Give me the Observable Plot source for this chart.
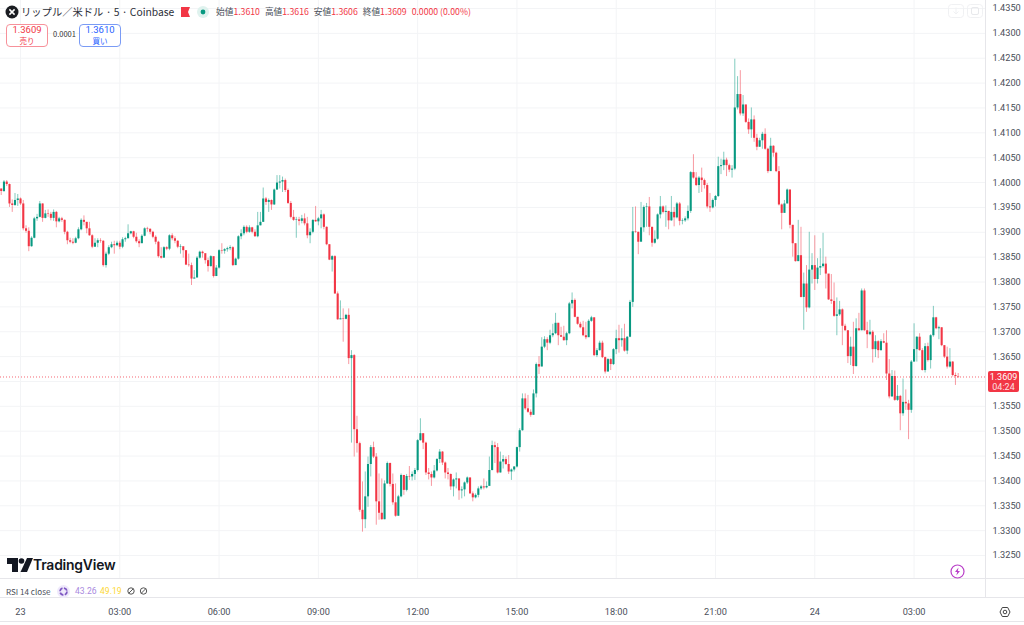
<!DOCTYPE html>
<html><head><meta charset="utf-8">
<script src="https://cdn.jsdelivr.net/npm/d3@7"></script>
<script src="https://cdn.jsdelivr.net/npm/@observablehq/plot@0.6"></script>
<style>
html,body{margin:0;padding:0;background:#fff;overflow:hidden}
#wrap{position:relative;width:1024px;height:625px;font-family:"Noto Sans CJK JP","Noto Sans",sans-serif;color:#131722}
#chart svg{display:block}
.a{position:absolute;white-space:nowrap}
.box{position:absolute;top:24px;width:40px;height:21px;border:1px solid;border-radius:4px;background:#fff;text-align:center;font-family:Roboto,sans-serif;font-size:9.5px;line-height:10px;box-sizing:content-box}
.box span{position:absolute;left:0;right:0;top:11px;font-family:"Noto Sans CJK JP",sans-serif;font-size:7.5px;line-height:10px}
.r{color:#f23645}.n{color:#4a4e59}
#ohlc{left:216px;top:5px;font-size:8.7px;line-height:14px}
#ohlc b{font-weight:400;margin-right:5px}
.rule{position:absolute;background:#e6e6ea}
</style></head><body>
<div id="wrap">
<div id="chart"></div>
<div class="rule" style="left:0;top:578px;width:1024px;height:1px"></div>
<div class="rule" style="left:0;top:597px;width:1024px;height:1px"></div>
<div class="rule" style="left:0;top:621px;width:1024px;height:1px"></div>
<div class="rule" style="left:985px;top:0;width:1px;height:597px"></div>
<svg class="a" style="left:5px;top:5px" width="14" height="14" viewBox="0 0 14 14"><circle cx="7" cy="7" r="6.5" fill="#1b1d22"/><path d="M4.4 4.4L9.6 9.6M9.6 4.4L4.4 9.6" stroke="#fff" stroke-width="1.5"/></svg>
<div class="a" style="left:21px;top:3px;font-size:10.3px;line-height:18px;color:#2b2e38">リップル／米ドル · 5 · Coinbase</div>
<svg class="a" style="left:181px;top:7px" width="9" height="10" viewBox="0 0 9 10"><path d="M0 0H9L7 5L9 10H0Z" fill="#f23645"/></svg>
<svg class="a" style="left:197px;top:6px" width="12" height="12" viewBox="0 0 12 12"><circle cx="6" cy="6" r="6" fill="#dff2ee"/><circle cx="6" cy="6" r="2.4" fill="#089981"/></svg>
<div class="a" id="ohlc"><span class="n">始値</span><b class="r">1.3610</b><span class="n">高値</span><b class="r">1.3616</b><span class="n">安値</span><b class="r">1.3606</b><span class="n">終値</span><b class="r">1.3609</b><b class="r">0.0000 (0.00%)</b></div>
<div class="box r" style="left:6px;border-color:#f7919a">1.3609<span>売り</span></div>
<div class="a" style="left:53px;top:29px;font-size:7.5px;line-height:10px;color:#333">0.0001</div>
<div class="box" style="left:79px;border-color:#7a9bf5;color:#2962ff">1.3610<span>買い</span></div>
<svg class="a" style="left:948px;top:4px" width="36" height="14" viewBox="0 0 36 14"><g fill="none" stroke="#f0f1f3" stroke-width="1"><rect x=".5" y=".5" width="15" height="13" rx="3"/><rect x="19.5" y=".5" width="15" height="13" rx="3"/><path d="M8 3.5V10M5.5 7.5L8 10L10.5 7.5"/><rect x="23.5" y="3.5" width="7" height="7" rx="1.5" stroke="#e8e9ec"/></g></svg>
<div class="a" style="left:988px;top:371px;width:31px;height:21px;background:#f23645;border-radius:2px;color:#fff;text-align:center;font-family:Roboto,sans-serif;font-size:9px;line-height:10px;padding-top:1px;box-sizing:border-box">1.3609<br><span style="opacity:.85">04:24</span></div>
<svg class="a" style="left:7px;top:558px" width="26" height="14" viewBox="0 0 26 14"><path d="M0 0H11V14H5V6H0Z" fill="#131722"/><circle cx="14.5" cy="3" r="2.8" fill="#131722"/><path d="M20 0H26L20 14H13.5Z" fill="#131722"/></svg>
<div class="a" style="left:33px;top:555px;font-family:Inter,Roboto,sans-serif;font-weight:600;font-size:13.9px;line-height:20px;letter-spacing:-.2px;color:#131722">TradingView</div>
<div class="a" style="left:6px;top:585px;font-size:8.1px;line-height:13px;color:#4a4e59">RSI 14 close</div>
<svg class="a" style="left:57px;top:585px" width="13" height="13" viewBox="0 0 13 13"><circle cx="6.5" cy="6.5" r="6.5" fill="#efe9fb"/><circle cx="6.5" cy="6.5" r="3.5" fill="none" stroke="#7e57c2" stroke-width="1.8" stroke-dasharray="4 1.5"/></svg>
<div class="a" style="left:75px;top:585px;font-family:Roboto,sans-serif;font-size:8.6px;line-height:13px;color:#a98ae0">43.26</div>
<div class="a" style="left:100px;top:585px;font-family:Roboto,sans-serif;font-size:8.6px;line-height:13px;color:#fdd835">49.19</div>
<svg class="a" style="left:126px;top:586px" width="24" height="10" viewBox="0 0 24 10"><g fill="none" stroke="#555" stroke-width="1"><circle cx="5" cy="5" r="3.2"/><path d="M2.8 7.2L7.2 2.8"/><circle cx="17.5" cy="5" r="3.2"/><path d="M15.3 7.2L19.7 2.8"/></g></svg>
<svg class="a" style="left:950px;top:564px" width="15" height="15" viewBox="0 0 15 15"><circle cx="7.5" cy="7.5" r="6.5" fill="#fff" stroke="#b93fc8" stroke-width="1.2"/><path d="M8.5 3.5L5 8H7.2L6.3 11.5L10 7H7.8Z" fill="#b93fc8"/></svg>
<svg class="a" style="left:999px;top:606px" width="12" height="12" viewBox="0 0 12 12"><path d="M3.3 1.5H8.7L11 6L8.7 10.5H3.3L1 6Z" fill="none" stroke="#444" stroke-width="1"/><circle cx="6" cy="6" r="1.8" fill="none" stroke="#444" stroke-width="1"/></svg>
</div>
<script>
// Prices in 1/10000 units; opens follow the previous close.
const firstOpen = 13987;
const closes = [
13982,14001,13996,13957,13954,13964,13967,13957,13907,13902,
13871,13888,13927,13930,13957,13928,13937,13936,13928,13940,
13921,13927,13924,13900,13883,13880,13878,13887,13905,13924,
13920,13907,13893,13870,13878,13883,13882,13833,13856,13869,
13875,13873,13878,13870,13885,13887,13897,13901,13890,13881,
13877,13892,13907,13906,13900,13890,13880,13851,13848,13869,
13866,13893,13887,13882,13870,13871,13863,13834,13833,13806,
13808,13848,13860,13857,13843,13831,13851,13811,13828,13863,
13862,13865,13867,13869,13833,13846,13891,13897,13910,13900,
13909,13900,13891,13913,13920,13967,13960,13964,13955,13985,
13999,14001,14004,13984,13958,13930,13924,13925,13922,13927,
13917,13893,13900,13924,13921,13927,13935,13910,13875,13844,
13851,13776,13724,13726,13725,13733,13646,13652,13503,13475,
13341,13322,13368,13433,13467,13448,13358,13335,13322,13394,
13435,13393,13356,13329,13368,13411,13381,13409,13408,13413,
13421,13481,13495,13476,13416,13413,13406,13420,13443,13458,
13436,13416,13413,13388,13402,13404,13380,13382,13396,13406,
13374,13366,13371,13384,13388,13386,13389,13421,13471,13467,
13416,13438,13443,13433,13418,13422,13428,13467,13501,13565,
13545,13538,13532,13575,13634,13629,13669,13684,13677,13692,
13696,13717,13692,13689,13682,13696,13756,13763,13729,13715,
13708,13692,13688,13721,13728,13652,13662,13677,13648,13619,
13644,13634,13664,13686,13682,13686,13661,13689,13759,13901,
13900,13880,13909,13950,13951,13910,13878,13886,13935,13951,
13940,13942,13923,13940,13929,13957,13922,13923,13927,13942,
14020,14009,13994,14009,14004,13994,13951,13949,13964,13972,
14032,14034,14045,14034,14025,14027,14150,14177,14138,14156,
14121,14106,14126,14089,14071,14084,14097,14067,14022,14073,
14059,14022,13955,13938,13957,13985,13914,13877,13841,13853,
13769,13796,13748,13824,13833,13805,13828,13831,13836,13816,
13764,13761,13731,13734,13744,13711,13702,13650,13669,13630,
13706,13702,13782,13702,13694,13699,13664,13680,13662,13680,
13677,13615,13569,13610,13562,13570,13535,13558,13555,13542,
13639,13664,13689,13662,13622,13670,13642,13692,13728,13706,
13708,13672,13649,13629,13639,13612,13610,13609];
const highs = [
13987,14004,14004,13997,13965,13978,13976,13969,13964,13913,
13909,13891,13930,13936,13962,13957,13944,13945,13940,13945,
13942,13930,13930,13925,13902,13888,13887,13890,13909,13927,
13933,13920,13920,13895,13887,13887,13887,13883,13860,13873,
13880,13882,13882,13882,13889,13890,13915,13902,13902,13898,
13885,13895,13909,13910,13907,13902,13893,13882,13869,13871,
13871,13895,13897,13891,13883,13875,13867,13863,13856,13838,
13823,13851,13862,13862,13853,13848,13853,13850,13833,13865,
13877,13867,13870,13873,13871,13848,13893,13905,13913,13913,
13913,13910,13905,13940,13940,13989,13970,13967,13965,13987,
14014,14014,14011,14007,13987,13962,13944,13930,13930,13934,
13937,13930,13907,13925,13952,13930,13944,13937,13911,13875,
13853,13853,13780,13762,13746,13735,13746,13662,13654,13530,
13478,13398,13418,13448,13471,13478,13455,13414,13404,13400,
13438,13436,13414,13394,13371,13414,13411,13413,13429,13418,
13425,13483,13525,13495,13478,13425,13418,13431,13445,13463,
13459,13438,13425,13414,13404,13416,13404,13388,13398,13408,
13406,13378,13374,13388,13391,13404,13398,13448,13480,13478,
13475,13458,13451,13448,13451,13424,13429,13468,13505,13575,
13575,13572,13543,13583,13637,13650,13688,13690,13688,13703,
13715,13737,13717,13709,13711,13699,13759,13778,13766,13729,
13719,13721,13719,13724,13731,13728,13666,13681,13681,13649,
13646,13646,13666,13703,13713,13706,13715,13690,13763,13950,
13951,13900,13960,13953,13958,13970,13910,13903,13937,13972,
13953,13953,13942,13972,13950,13960,13960,13927,13931,13953,
14022,14056,14020,14012,14029,14007,13998,13978,13967,13974,
14051,14047,14061,14049,14037,14034,14248,14213,14225,14175,
14156,14128,14150,14134,14097,14089,14101,14108,14069,14089,
14074,14061,14032,13957,13964,13987,13985,13914,13877,13924,
13910,13818,13833,13900,13857,13893,13847,13867,13898,13850,
13814,13815,13798,13768,13761,13746,13715,13702,13689,13719,
13726,13737,13786,13786,13719,13723,13702,13692,13682,13684,
13696,13702,13644,13622,13621,13592,13572,13605,13583,13562,
13642,13716,13690,13696,13666,13676,13677,13694,13751,13729,
13711,13708,13672,13669,13666,13640,13617,13616];
const lows = [
13974,13980,13992,13950,13940,13952,13952,13954,13903,13898,
13861,13870,13887,13922,13929,13920,13927,13930,13923,13922,
13909,13919,13920,13895,13875,13877,13875,13877,13885,13903,
13913,13897,13892,13867,13870,13869,13878,13830,13828,13853,
13867,13856,13871,13865,13867,13880,13887,13895,13887,13878,
13869,13878,13891,13900,13895,13887,13875,13848,13846,13848,
13863,13863,13883,13877,13867,13856,13848,13833,13830,13793,
13806,13820,13846,13848,13836,13820,13830,13808,13815,13826,
13856,13856,13860,13863,13831,13833,13844,13885,13893,13897,
13898,13897,13890,13889,13913,13920,13954,13940,13944,13954,
13984,13987,13980,13980,13956,13927,13922,13888,13913,13917,
13913,13887,13877,13897,13920,13913,13907,13905,13873,13843,
13820,13775,13723,13724,13679,13724,13634,13476,13448,13456,
13337,13297,13304,13347,13408,13445,13311,13321,13321,13322,
13393,13388,13351,13327,13329,13366,13371,13378,13401,13400,
13401,13418,13480,13463,13411,13402,13389,13404,13418,13435,
13431,13404,13402,13381,13368,13384,13361,13364,13368,13393,
13373,13358,13364,13366,13381,13382,13384,13401,13420,13435,
13414,13416,13424,13431,13413,13401,13418,13426,13458,13500,
13542,13536,13528,13532,13567,13614,13630,13666,13662,13674,
13688,13694,13672,13689,13681,13672,13694,13746,13728,13713,
13706,13690,13684,13689,13719,13650,13648,13661,13646,13615,
13619,13622,13632,13654,13657,13669,13659,13654,13688,13749,
13898,13855,13882,13900,13910,13893,13870,13876,13884,13927,
13937,13910,13905,13922,13911,13927,13913,13915,13920,13923,
13938,14007,13992,13978,13980,13987,13947,13940,13947,13951,
13970,14016,14024,14012,14020,14009,14024,14146,14134,14133,
14119,14097,14089,14081,14064,14071,14067,14065,14018,14024,
14051,14020,13953,13905,13940,13957,13907,13850,13840,13841,
13768,13703,13739,13746,13796,13783,13796,13813,13828,13786,
13763,13755,13729,13692,13731,13672,13701,13636,13632,13614,
13629,13701,13702,13701,13666,13692,13637,13648,13646,13661,
13676,13602,13565,13568,13560,13560,13501,13530,13542,13483,
13536,13639,13639,13661,13621,13617,13639,13625,13689,13704,
13684,13670,13646,13625,13627,13609,13592,13606];
const startMinute = -35;   // 23:25 of the previous day, minutes from 00:00 on the 23rd
const stepMinutes = 5;
const lastPrice = 1.3609;
const upColor = "#089981", downColor = "#f23645";
const timeTicks = [0,180,360,540,720,900,1080,1260,1440,1620];
const timeLabels = ["23","03:00","06:00","09:00","12:00","15:00","18:00","21:00","24","03:00"];
const priceTicks = [1.325,1.33,1.335,1.34,1.345,1.35,1.355,1.36,1.365,1.37,1.375,1.38,1.385,1.39,1.395,1.4,1.405,1.41,1.415,1.42,1.425,1.43,1.435];
const hiddenPriceLabel = 1.36; // sits behind the last-price tag in the reference

const candles = closes.map((c,i)=>({
  t: startMinute + i*stepMinutes,
  open: (i ? closes[i-1] : firstOpen)/10000,
  close: c/10000, high: highs[i]/10000, low: lows[i]/10000
}));
const col = d => d.close >= d.open ? upColor : downColor;
const gridColor = "#f3f4f6";

const plot = Plot.plot({
  width: 1024, height: 625,
  marginLeft: 0, marginRight: 39, marginTop: 0, marginBottom: 47,
  style: {background:"#fff", fontFamily:"Roboto,'Noto Sans',sans-serif", fontSize:"9.2px", color:"#4a4e59"},
  x: {type:"linear", domain:[-36.3,1749.5], label:null},
  y: {type:"linear", domain:[1.32038,1.43661], label:null},
  color: {type:"identity"},
  marks: [
    Plot.ruleX(timeTicks, {stroke:gridColor}),
    Plot.ruleY(priceTicks, {stroke:gridColor}),
    Plot.ruleY([lastPrice], {stroke:downColor, strokeDasharray:"1,2", strokeOpacity:.75}),
    Plot.ruleX(candles, {x:"t", y1:"low", y2:"high", stroke:col, strokeOpacity:.5, strokeWidth:1}),
    Plot.ruleX(candles, {x:"t", y1:"open", y2:"close", stroke:col, strokeWidth:2.1}),
    Plot.axisY({anchor:"right", ticks:priceTicks.filter(d=>d!==hiddenPriceLabel), tickSize:0, tickPadding:7, tickFormat:d3.format(".4f"), label:null}),
    Plot.axisX({anchor:"bottom", ticks:timeTicks, tickSize:0, tickPadding:30, label:null,
      tickFormat:d=>timeLabels[timeTicks.indexOf(d)],
      fontWeight:d=>(d%1440===0?"700":"400")})
  ]
});
document.getElementById("chart").append(plot);
</script>
</body></html>
